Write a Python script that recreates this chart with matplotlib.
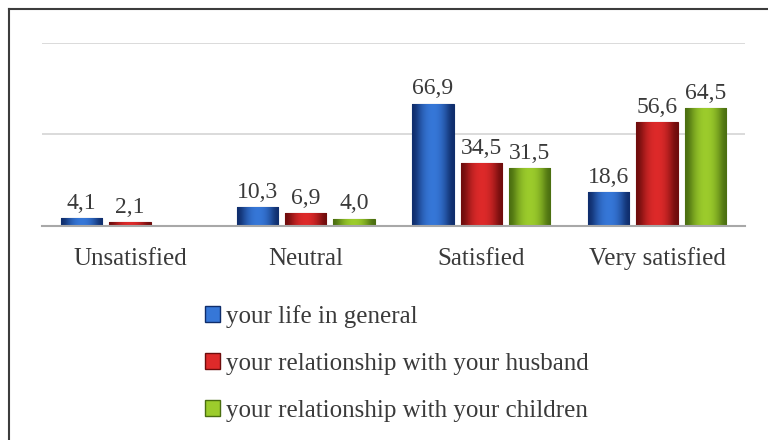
import numpy as np
import matplotlib
matplotlib.use("Agg")
import matplotlib.pyplot as plt
from matplotlib.colors import LinearSegmentedColormap
from matplotlib.lines import Line2D
from matplotlib.patches import Patch

plt.rcParams['font.family'] = ['Liberation Serif', 'DejaVu Serif']

categories = ["Unsatisfied", "Neutral", "Satisfied", "Very satisfied"]
series_names = ["your life in general",
                "your relationship with your husband",
                "your relationship with your children"]
life = [4.1, 10.3, 66.9, 18.6]
husband = [2.1, 6.9, 34.5, 56.6]
children = [np.nan, 4.0, 31.5, 64.5]

# edge / middle colours for the bevelled look
shades = [("#0f2d6b", "#3677d8"), ("#6e0c0c", "#de2a2a"), ("#4a6e10", "#9ccc2c")]

fig = plt.figure(figsize=(7.68, 4.4), dpi=100)
ax = fig.add_axes([0.0547, 0.4864, 0.9153, 0.4159])

x = np.arange(len(categories))
width = 0.235
step = 0.275
grad = np.array([[0.0, 0.5, 0.85, 1.0, 1.0, 0.85, 0.5, 0.0]])

for i, vals in enumerate([life, husband, children]):
    dark, light = shades[i]
    cmap = LinearSegmentedColormap.from_list("g%d" % i, [dark, light])
    bars = ax.bar(x + (i - 1) * step, np.nan_to_num(vals), width,
                  color=light, edgecolor=dark, linewidth=0.8, zorder=2)
    for b, v in zip(bars, vals):
        if np.isnan(v):
            b.set_visible(False)
            continue
        x0, y0 = b.get_x(), b.get_y()
        im = ax.imshow(grad, cmap=cmap, aspect='auto', interpolation='bicubic',
                       extent=(x0, x0 + b.get_width(), y0, y0 + b.get_height()),
                       zorder=2.5)
        im.set_clip_path(b)
        ax.annotate(f"{v:.1f}".replace(".", ","),
                    (b.get_x() + b.get_width() / 2, v),
                    xytext=(0, 3), textcoords="offset points",
                    ha="center", va="bottom", fontsize=17, color="#3a3a3a")

ax.set_xlim(-0.5, len(categories) - 0.5)
ax.set_ylim(0, 100)
ax.set_yticks([0, 50, 100])
ax.yaxis.grid(True, color="#d4d4d4", linewidth=1.2, zorder=0)
ax.tick_params(axis="y", left=False, labelleft=False)
ax.tick_params(axis="x", bottom=False, labelsize=18, labelcolor="#3a3a3a", pad=12)
ax.set_xticks(x)
ax.set_xticklabels(categories)
for s in ["top", "right", "left"]:
    ax.spines[s].set_visible(False)
ax.spines["bottom"].set_color("#a8a8a8")
ax.spines["bottom"].set_linewidth(1.5)
ax.set_axisbelow(True)

handles = [Patch(facecolor=l, edgecolor=d) for d, l in shades]
fig.legend(handles, series_names, loc="upper left",
           bbox_to_anchor=(0.25, 0.335), frameon=False, fontsize=18,
           handlelength=0.6, handleheight=0.6, handletextpad=0.25,
           labelspacing=1.0, labelcolor="#3a3a3a", borderpad=0)

# outer frame (left and top edges visible)
fig.add_artist(Line2D([9 / 768, 9 / 768], [0, 1 - 9 / 440], color="#3c3c3c", lw=1.5))
fig.add_artist(Line2D([9 / 768, 1], [1 - 9 / 440, 1 - 9 / 440], color="#3c3c3c", lw=1.5))

fig.savefig("out.png", dpi=100)
